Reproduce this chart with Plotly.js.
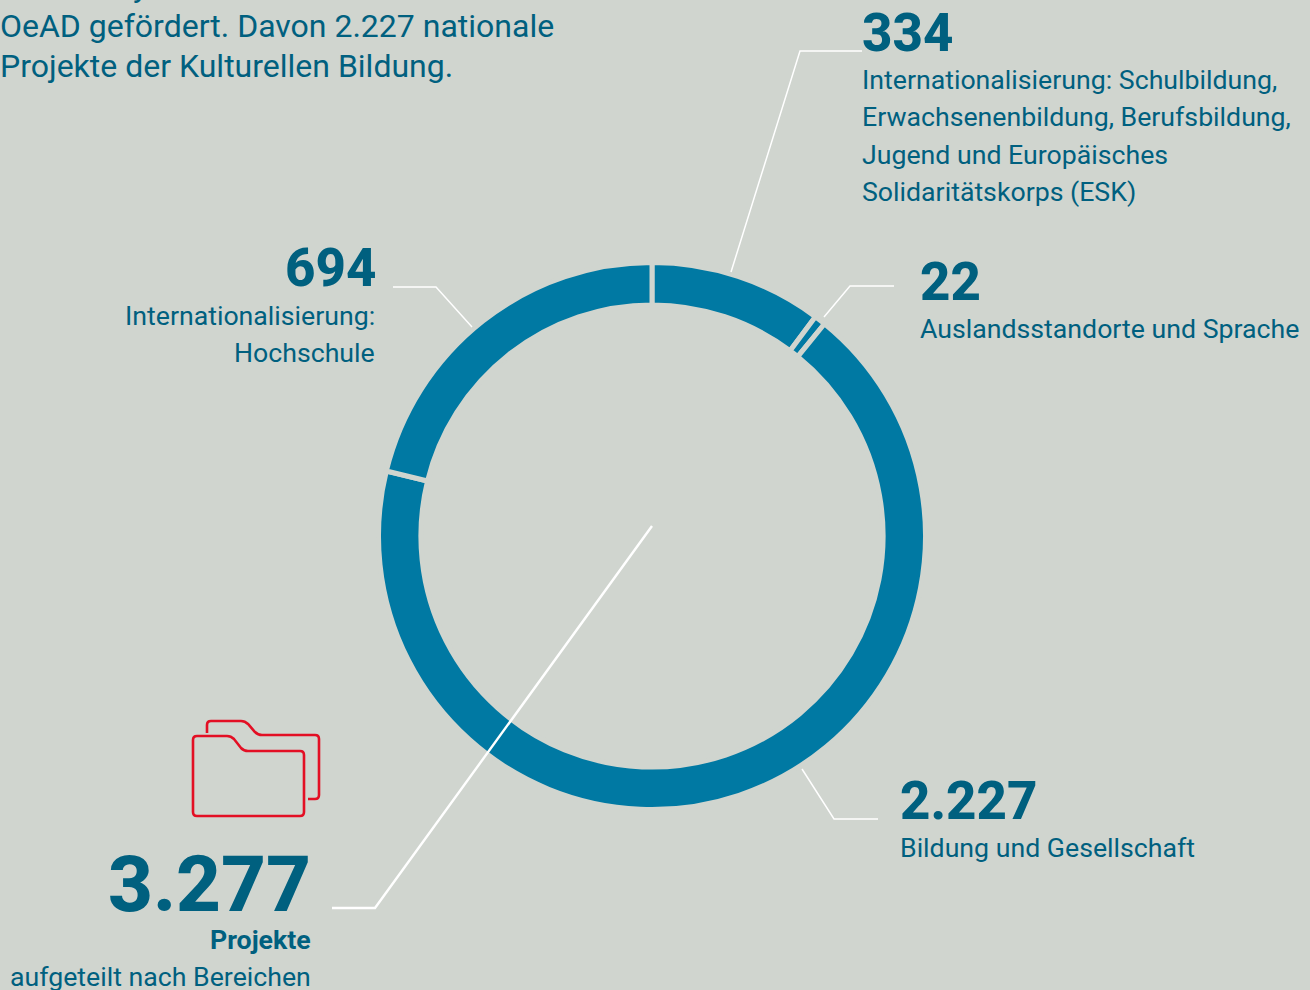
<!DOCTYPE html>
<html><head><meta charset="utf-8">
<script src="https://cdn.plot.ly/plotly-3.0.1.min.js"></script>
<style>html,body{margin:0;padding:0;background:#d0d5cf;overflow:hidden}#c{width:1310px;height:990px}</style>
</head><body><div id="c"></div>
<script>
const categories = ["Internationalisierung: Schulbildung, Erwachsenenbildung, Berufsbildung, Jugend und Europäisches Solidaritätskorps (ESK)", "Auslandsstandorte und Sprache", "Bildung und Gesellschaft", "Internationalisierung: Hochschule"];
const projectCounts = [334, 22, 2227, 694];
const ringColors = ["#0079a3", "#0079a3", "#0079a3", "#0079a3"];
const W = 1310, H = 990, BG = "#d0d5cf", INK = "#00607f", RED = "#e30f24";
const cx = 652, cy = 536, R = 273.5;
const px = x => x / W, py = y => 1 - y / H;
const P = (x, y) => px(x) + "," + py(y);
const poly = pts => pts.map((p, i) => (i ? "L" : "M") + P(p[0], p[1])).join(" ");
const line = (pts, color, width) => ({type: "path", xref: "paper", yref: "paper", path: poly(pts), line: {color, width}});
const curved = (path, color, width) => ({type: "path", xref: "paper", yref: "paper", path, line: {color, width}});
const thinLeaders = [
  [[862,51],[800,51],[731,272]],
  [[894,286],[850,286],[824,317]],
  [[393,287],[436,287],[472,327]],
  [[878,819],[834,819],[802,769]]
];
const mainLeader = [[652,526],[375,908],[332,908]];
const folderBack = "M" + P(207,733) + " L" + P(207,725) + " Q" + P(207,721) + " " + P(211,721) + " L" + P(241,721) + " Q" + P(245,721) + " " + P(248,724) + " L" + P(255,732) + " Q" + P(258,735) + " " + P(262,735) + " L" + P(315,735) + " Q" + P(319,735) + " " + P(319,739) + " L" + P(319,795) + " Q" + P(319,799) + " " + P(315,799) + " L" + P(308,799);
const folderFront = "M" + P(193,740) + " Q" + P(193,736) + " " + P(197,736) + " L" + P(227,736) + " Q" + P(231,736) + " " + P(234,739) + " L" + P(241,748) + " Q" + P(244,751) + " " + P(248,751) + " L" + P(300,751) + " Q" + P(304,751) + " " + P(304,755) + " L" + P(304,812) + " Q" + P(304,816) + " " + P(300,816) + " L" + P(197,816) + " Q" + P(193,816) + " " + P(193,812) + " Z";
const txt = (text, x, y, size, anchor, weight) => ({text, x: px(x), y: py(y), xref: "paper", yref: "paper", xanchor: anchor, yanchor: "middle", showarrow: false, align: anchor, font: {family: "Roboto", size, color: INK, weight: weight || 400}});
const L = 26.7, N = 52.8;
const notes = [
  txt("y", 131, -14, 32, "left"),
  txt("OeAD gefördert. Davon 2.227 nationale", -2, 26, 32, "left"),
  txt("Projekte der Kulturellen Bildung.", -2, 66, 32, "left"),
  txt("334", 860, 33, N, "left", 800),
  txt("Internationalisierung: Schulbildung,", 860, 80, L, "left"),
  txt("Erwachsenenbildung, Berufsbildung,", 860, 117, L, "left"),
  txt("Jugend und Europäisches", 860, 155, L, "left"),
  txt("Solidaritätskorps (ESK)", 860, 192, L, "left"),
  txt("22", 918, 282, N, "left", 800),
  txt("Auslandsstandorte und Sprache", 918, 329, L, "left"),
  txt("694", 378, 268, N, "right", 800),
  txt("Internationalisierung:", 377, 316, L, "right"),
  txt("Hochschule", 377, 353, L, "right"),
  txt("2.227", 898, 801, N, "left", 800),
  txt("Bildung und Gesellschaft", 898, 848, L, "left"),
  txt("3.277", 313, 884, 78, "right", 800),
  txt("Projekte", 313, 940, L, "right", 700),
  txt("aufgeteilt nach Bereichen", 313, 977, L, "right")
];
Plotly.newPlot("c", [{
  type: "pie", values: projectCounts, labels: categories, sort: false, direction: "clockwise", rotation: 0,
  hole: 0.845, textinfo: "none", showlegend: false, hoverinfo: "label+value",
  marker: {colors: ringColors, line: {color: BG, width: 5}},
  domain: {x: [px(cx - R), px(cx + R)], y: [py(cy + R), py(cy - R)]}
}], {
  width: W, height: H, margin: {l: 0, r: 0, t: 0, b: 0}, paper_bgcolor: BG, plot_bgcolor: BG, showlegend: false,
  annotations: notes,
  shapes: thinLeaders.map(p => line(p, "#ffffff", 1.5)).concat([line(mainLeader, "#ffffff", 2.4), curved(folderBack, RED, 2.6), curved(folderFront, RED, 2.6)])
}, {displayModeBar: false});
</script></body></html>
